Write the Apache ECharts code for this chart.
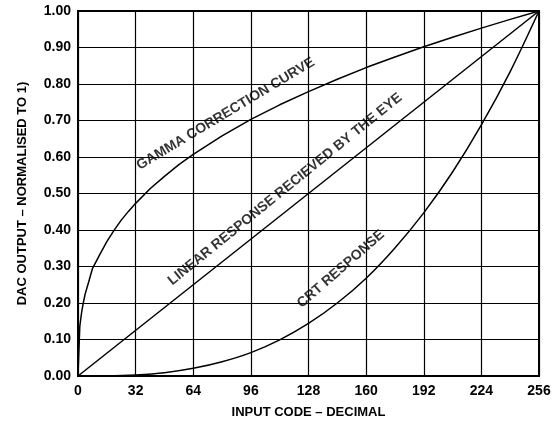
<!DOCTYPE html>
<html>
<head>
<meta charset="utf-8">
<script src="https://cdn.jsdelivr.net/npm/echarts@6/dist/echarts.min.js"></script>
<style>
  html, body { margin: 0; padding: 0; background: #fff; }
  #chart { width: 554px; height: 424px; }
</style>
</head>
<body>
<div id="chart"></div>
<script>
  // gamma correction curve
  var gammaX = [0, 1, 2, 3, 4, 6, 8, 12, 16, 20, 24, 28, 32, 40, 48, 56, 64, 80, 96, 112, 128, 144, 160, 176, 192, 208, 224, 240, 256]
  var gammaY = [0, 0.136, 0.174, 0.202, 0.225, 0.259, 0.294, 0.332, 0.368, 0.399, 0.427, 0.451, 0.473, 0.513, 0.547, 0.579, 0.607, 0.658, 0.703, 0.743, 0.779, 0.813, 0.845, 0.874, 0.902, 0.928, 0.953, 0.977, 1]
  // CRT response
  var crtX = [0, 16, 32, 48, 64, 80, 96, 112, 128, 144, 160, 176, 192, 208, 224, 240, 256]
  var crtY = [0, 0.0004, 0.003, 0.009, 0.021, 0.039, 0.064, 0.099, 0.144, 0.2, 0.268, 0.351, 0.447, 0.559, 0.688, 0.834, 1]
  // linear response
  var linearX = [0, 256]
  var linearY = [0, 1]

  var xTicks = [0, 32, 64, 96, 128, 160, 192, 224, 256]

  function pairs(xs, ys) {
    return xs.map(function (x, i) {
      return [x, ys[i]]
    })
  }

  var font = 'Arial'

  function curveLabel(text, pos, angle) {
    return {
      type: 'scatter',
      symbolSize: 0,
      silent: true,
      z: 5,
      data: [pos],
      label: {
        show: true,
        position: 'inside',
        formatter: text,
        rotate: angle,
        fontFamily: font,
        fontWeight: 'bold',
        fontSize: 14,
        color: '#000',
      },
    }
  }

  var chart = echarts.init(document.getElementById('chart'))
  var option = {
    animation: false,
    grid: {
      left: 78,
      right: 15,
      top: 11,
      bottom: 45,
      show: true,
      borderColor: '#000',
      borderWidth: 2,
    },
    xAxis: {
      type: 'value',
      min: 0,
      max: 256,
      interval: 32,
      name: 'INPUT CODE – DECIMAL',
      nameLocation: 'middle',
      nameGap: 30,
      nameTextStyle: { fontFamily: font, fontWeight: 'bold', fontSize: 13, color: '#000' },
      axisLine: { show: false },
      axisTick: { show: false },
      axisLabel: {
        margin: 8,
        fontFamily: font,
        fontWeight: 'bold',
        fontSize: 14,
        color: '#000',
        formatter: function (v) {
          return xTicks.indexOf(v) >= 0 ? String(v) : ''
        },
      },
      splitLine: { show: true, lineStyle: { color: '#000', width: 1.2 } },
    },
    yAxis: {
      type: 'value',
      min: 0,
      max: 1,
      interval: 0.1,
      name: 'DAC OUTPUT – NORMALISED TO 1)',
      nameLocation: 'middle',
      nameGap: 49,
      nameRotate: 90,
      nameTextStyle: { fontFamily: font, fontWeight: 'bold', fontSize: 13, color: '#000' },
      axisLine: { show: false },
      axisTick: { show: false },
      axisLabel: {
        margin: 7,
        fontFamily: font,
        fontWeight: 'bold',
        fontSize: 14,
        color: '#000',
        formatter: function (v) {
          return v.toFixed(2)
        },
      },
      splitLine: { show: true, lineStyle: { color: '#000', width: 1.2 } },
    },
    series: [
      {
        name: 'gamma',
        type: 'line',
        smooth: false,
        symbol: 'none',
        lineStyle: { color: '#000', width: 1.5 },
        data: pairs(gammaX, gammaY),
      },
      {
        name: 'crt',
        type: 'line',
        smooth: 0.3,
        symbol: 'none',
        lineStyle: { color: '#000', width: 1.5 },
        data: pairs(crtX, crtY),
      },
      {
        name: 'linear',
        type: 'line',
        symbol: 'none',
        lineStyle: { color: '#000', width: 1.5 },
        data: pairs(linearX, linearY),
      },
      curveLabel('GAMMA CORRECTION CURVE', [82, 0.718], 31),
      curveLabel('LINEAR RESPONSE RECIEVED BY THE EYE', [115, 0.512], 39),
      curveLabel('CRT RESPONSE', [146, 0.293], 41),
    ],
  }
  chart.setOption(option)
</script>
</body>
</html>
